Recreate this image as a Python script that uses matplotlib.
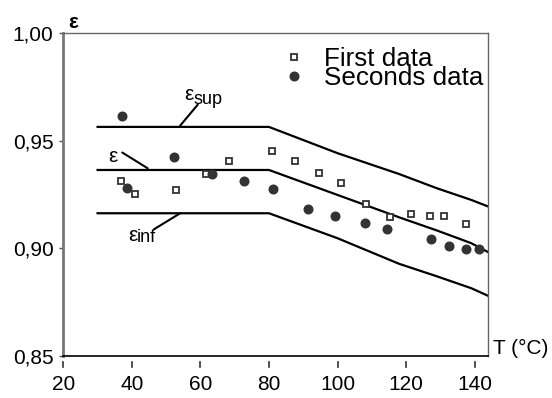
import numpy as np
import matplotlib.pyplot as plt
import matplotlib.transforms as mtransforms
from matplotlib.ticker import FuncFormatter

plt.rcParams['font.family'] = ['Liberation Sans', 'DejaVu Sans']

# --- data ---
# first data (open squares)
t_first = [36.8, 40.9, 52.9, 61.6, 68.2, 80.8, 87.6, 94.5, 101.0, 108.4,
           115.2, 121.5, 127.1, 131.2, 137.5]
e_first = [0.9315, 0.9253, 0.9271, 0.9346, 0.9406, 0.9453, 0.9406, 0.9349,
           0.9305, 0.9206, 0.9147, 0.9160, 0.9152, 0.9152, 0.9115]

# seconds data (filled circles)
t_second = [37.1, 38.7, 52.4, 63.3, 72.8, 81.3, 91.5, 99.3, 108.1, 114.4,
            127.4, 132.4, 137.5, 141.2]
e_second = [0.9617, 0.9279, 0.9424, 0.9346, 0.9313, 0.9276, 0.9182, 0.9151,
            0.9117, 0.9090, 0.9044, 0.9011, 0.8996, 0.8996]

# model curves: eps, eps_sup, eps_inf
t_curve = [30, 80, 100, 118, 129, 139, 144]
e_sup = [0.9564, 0.9564, 0.9442, 0.9345, 0.9279, 0.9225, 0.9194]
e_mid = [0.9364, 0.9364, 0.9248, 0.9144, 0.9083, 0.9024, 0.8982]
e_inf = [0.9163, 0.9163, 0.9047, 0.8928, 0.8870, 0.8815, 0.8779]

x_ticks = [20, 40, 60, 80, 100, 120, 140]
y_ticks = [0.85, 0.90, 0.95, 1.00]

# --- figure ---
fig = plt.figure(figsize=(5.52, 3.98), dpi=100)
ax = fig.add_axes([0.1147, 0.1055, 0.77, 0.8115])

ax.plot(t_curve, e_sup, 'k-', lw=1.6)
ax.plot(t_curve, e_mid, 'k-', lw=1.6)
ax.plot(t_curve, e_inf, 'k-', lw=1.6)

ax.plot(t_first, e_first, linestyle='none', marker='s', ms=4.2, mfc='white',
        mec='#333333', mew=1.3, label='First data')
ax.plot(t_second, e_second, linestyle='none', marker='o', ms=6.2, mfc='#333333',
        mec='#333333', label='Seconds data')

# curve labels with leader lines
lead = dict(arrowstyle='-', lw=1.5, color='black', shrinkA=0, shrinkB=0)
ax.annotate('', xy=(54.1, 0.9570), xytext=(59.2, 0.9667), arrowprops=lead)
ax.annotate('', xy=(44.6, 0.9372), xytext=(37.2, 0.9445), arrowprops=lead)
ax.annotate('', xy=(54.1, 0.9163), xytext=(46.5, 0.9089), arrowprops=lead)

ax.text(55.4, 0.9690, 'ε', fontsize=15, va='baseline')
ax.text(58.0, 0.9670, 'sup', fontsize=13, va='baseline')
ax.text(33.0, 0.9402, 'ε', fontsize=15, va='baseline')
ax.text(39.0, 0.9035, 'ε', fontsize=15, va='baseline')
ax.text(41.4, 0.9030, 'inf', fontsize=13, va='baseline')

ax.set_xlim(20, 144)
ax.set_ylim(0.85, 1.00)
ax.set_xticks(x_ticks)
ax.set_yticks(y_ticks)
ax.yaxis.set_major_formatter(FuncFormatter(lambda v, p: f'{v:.2f}'.replace('.', ',')))
ax.tick_params(axis='both', labelsize=15)
ax.tick_params(axis='y', length=3, width=1, color='#555555', pad=4)
ax.tick_params(axis='x', length=0, pad=14)

# x tick marks sit a little below the axis line
trans = mtransforms.blended_transform_factory(ax.transData, ax.transAxes)
for xt in x_ticks:
    ax.plot([xt, xt], [-0.018, -0.033], color='#333333', lw=1.2,
            transform=trans, clip_on=False)

ax.spines['left'].set_color('#777777')
ax.spines['left'].set_linewidth(2)
ax.spines['bottom'].set_color('black')
ax.spines['bottom'].set_linewidth(1.2)
for s in ('top', 'right'):
    ax.spines[s].set_color('#666666')
    ax.spines[s].set_linewidth(1)

ax.text(0.012, 1.004, 'ε', transform=ax.transAxes, fontsize=15,
        fontweight='bold', va='bottom', ha='left')
ax.text(1.0104, 0.006, 'T (°C)', transform=ax.transAxes, fontsize=15,
        va='baseline', ha='left')

ax.legend(loc='upper left', bbox_to_anchor=(0.512, 0.956), frameon=False,
          fontsize=18.7, borderpad=0, borderaxespad=0, handlelength=1,
          handletextpad=0.65, labelspacing=-0.2, markerscale=1.0)

fig.savefig('out.png', dpi=100)
